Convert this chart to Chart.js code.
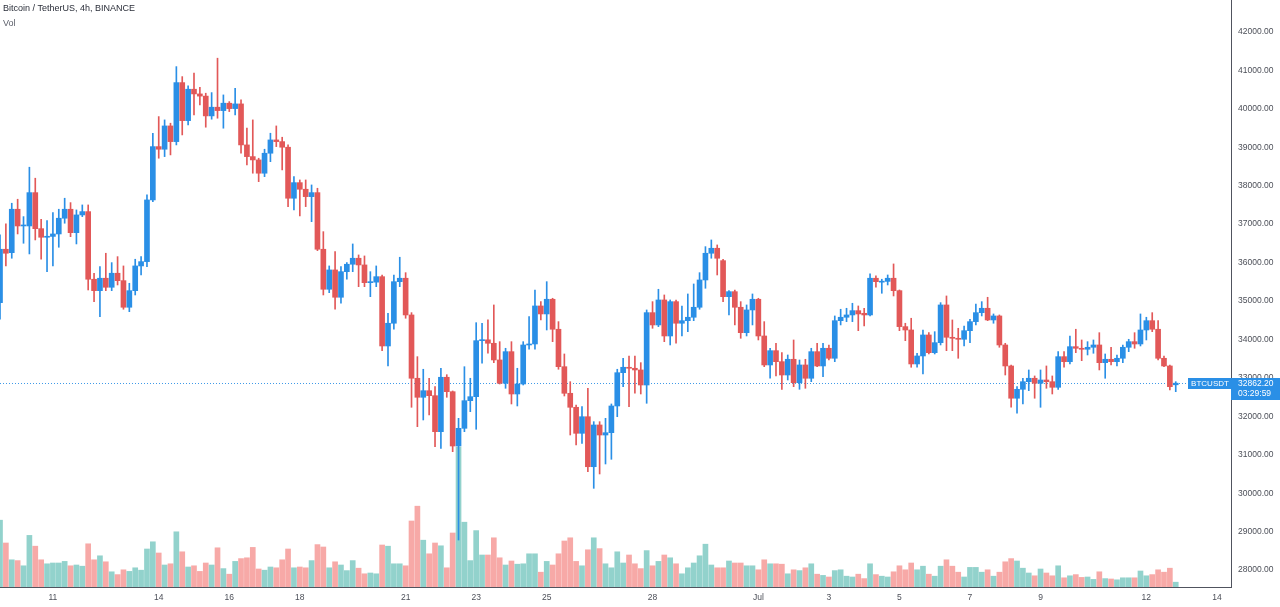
<!DOCTYPE html>
<html>
<head>
<meta charset="utf-8">
<script src="https://cdn.jsdelivr.net/npm/chart.js@4.4.0/dist/chart.umd.min.js"></script>
<style>
  html, body { margin: 0; padding: 0; background: #ffffff; }
  #wrap { width: 1280px; height: 607px; }
</style>
</head>
<body>
<div id="wrap"><canvas id="myChart" width="1280" height="607"></canvas></div>
<script>
// BTCUSDT 4h candles, index 0 = 9 Jun 12:00
const opens = [34957,36346,36257,37387,36952,36952,37819,36882,36658,36680,
  36744,37153,37387,36778,37239,37325,35566,35269,35592,35357,
  35722,35529,34837,35269,35912,36024,37629,39016,38948,39554,
  39146,40681,39692,40509,40387,40330,39815,40041,39953,40145,
  40005,40127,39060,38756,38670,38324,38844,39190,39146,39000,
  37673,38079,37907,37715,37819,36346,35305,35808,35097,35763,
  35956,36112,35938,35477,35490,35633,33830,34421,35503,35592,
  34637,32990,32495,32667,32537,31600,33016,32641,31228,31688,
  32407,32511,33968,33990,33900,33466,32860,33682,32581,32841,
  33856,33882,34871,34663,35045,34265,33291,32599,32235,31558,
  31990,30689,31775,31514,31574,32269,33135,33276,33250,33206,
  32815,34697,34377,35027,34090,34983,34421,34488,34577,34837,
  35547,36242,36372,36050,35113,35243,34837,34176,34767,35045,
  34090,33336,33708,33422,33075,33484,32875,33336,32990,33682,
  33310,33770,33510,34488,34577,34637,34749,34680,34637,35592,
  35490,35510,35592,35269,34333,34246,33362,33570,34116,33656,
  33916,34897,34056,34030,34004,34228,34463,34697,34811,34507,
  34611,33856,33310,32470,32703,32901,32990,32860,32945,32901,
  32755,33552,33422,33812,33770,33744,33796,33856,33396,33484,
  33422,33510,33796,33942,33882,34246,34488,34265,33510,33310,
  32820];
const highs = [36718,37005,37543,37647,37195,38480,38194,37127,37090,37299,
  37387,37673,37559,37369,37499,37499,35722,35893,36242,35998,
  36154,35912,35461,36086,36154,37759,39364,39797,39711,39625,
  41097,40837,40595,40926,40561,40405,40421,41316,40361,40187,
  40535,40231,39495,39711,38714,38948,39364,39554,39260,39060,
  38235,38149,38149,38019,37933,36804,35912,36284,35893,35998,
  36484,36198,36172,35763,35912,35677,34681,35677,36138,35737,
  34697,33552,33224,32990,32771,33250,33083,32660,31948,33291,
  32990,34436,34421,34507,34897,33942,33770,33942,33250,33942,
  34593,35287,34983,35503,35071,34463,33622,32901,32295,32251,
  32729,31861,31861,31948,32321,33224,33510,33570,33570,33396,
  34767,34983,35305,35157,35027,35027,34871,35183,35443,35737,
  36414,36588,36458,36086,35269,35287,34983,34897,35183,35071,
  34463,33770,33900,33656,33596,33986,33466,33484,33770,33900,
  33900,33856,34611,34785,34811,34941,34871,34811,35704,35652,
  35566,35677,35964,35287,34421,34551,33640,34246,34176,34202,
  34957,35131,34507,34290,34350,34525,34923,34983,35097,34663,
  34637,33900,33336,32771,32990,33206,33050,33206,33310,33050,
  33682,33682,34090,34265,33986,33942,33986,34176,33622,33796,
  33596,33856,34004,34176,34663,34577,34697,34488,33570,33336,
  32901];
const lows = [34525,35912,36112,36744,36502,36224,36588,36086,35763,35912,
  36398,37023,36674,36484,37195,35287,34983,34592,35269,35269,
  35417,34785,34723,35157,35677,35893,37585,38714,38756,38800,
  39060,39320,39581,39841,40101,39521,39729,39755,39495,39927,
  39841,38844,38540,38324,38105,38235,38625,39016,38410,37455,
  37369,37213,37455,37064,36310,35157,35217,34785,34941,35566,
  35763,35373,35373,35113,35373,33708,33310,34265,35373,34551,
  32235,31730,31905,32034,31210,31168,32495,31080,28782,31600,
  32121,31663,33380,33640,33396,32841,32729,32321,32269,32815,
  33744,33744,34507,34246,33942,33224,32529,31514,31254,31298,
  30559,30127,30500,30760,30882,31990,32771,32251,32599,32581,
  32339,34290,34333,33942,33856,33900,34090,34202,34488,34785,
  35331,36112,35677,34983,34637,34377,34030,34090,34377,33986,
  33291,32990,33050,32703,32945,32771,32703,32729,32901,33291,
  33032,33466,33422,34377,34463,34463,34228,34350,34611,35357,
  35201,35417,35131,34228,33968,33276,33276,33102,33622,33622,
  33856,33708,33708,33510,33830,33916,34377,34611,34488,34421,
  33796,33075,32235,32079,32321,32667,32470,32235,32729,32581,
  32703,33276,33362,33656,33447,33596,33640,33206,32990,33336,
  33310,33396,33682,33770,33830,33986,34202,33466,33291,32685,
  32641];
const closes = [36346,36242,37387,36952,36960,37819,36882,36658,36680,36744,
  37153,37387,36778,37239,37325,35566,35269,35592,35357,35722,
  35529,34837,35269,35912,36024,37629,39016,38948,39554,39146,
  40681,39692,40509,40387,40330,39815,40041,39953,40145,40005,
  40127,39060,38756,38670,38324,38844,39190,39146,39000,37673,
  38079,37907,37715,37819,36346,35305,35808,35097,35763,35956,
  36112,35938,35477,35490,35633,33830,34421,35503,35592,34637,
  32990,32495,32667,32537,31600,33016,32641,31228,31688,32407,
  32511,33968,33990,33900,33466,32860,33682,32581,32841,33856,
  33882,34871,34663,35045,34265,33291,32599,32235,31558,31990,
  30689,31775,31514,31574,32269,33135,33276,33250,33206,32815,
  34697,34377,35027,34090,34983,34421,34488,34577,34837,35547,
  36242,36372,36112,35113,35243,34837,34176,34767,35045,34090,
  33336,33708,33422,33075,33484,32875,33336,32990,33682,33310,
  33770,33510,34488,34577,34637,34749,34663,34637,35592,35503,
  35510,35592,35269,34333,34246,33362,33570,34116,33656,33916,
  34897,34056,34030,34004,34228,34463,34697,34811,34507,34611,
  33856,33310,32470,32703,32901,32990,32860,32945,32901,32755,
  33552,33422,33812,33770,33744,33796,33856,33396,33484,33422,
  33510,33796,33942,33882,34246,34488,34265,33510,33310,32771,
  32862.2];
const volumes = [16700,11000,6800,6600,5300,12900,10200,6800,5800,6000,
  6000,6400,5300,5500,5200,10800,6800,7800,6300,3800,
  3100,4300,3900,4800,4200,9500,11300,8500,5500,5800,
  13800,8800,5000,5300,3900,6000,5500,9800,4600,3200,
  6400,7100,7300,9900,4500,4200,5000,4800,6800,9500,
  4800,5000,4800,6600,10600,10000,4800,6300,5500,4100,
  6600,4700,3300,3500,3300,10500,10200,5800,5800,5300,
  16500,20200,11700,8300,11000,10300,4800,13500,35000,16200,
  6600,14100,8000,8000,12300,7300,5500,6500,5700,5800,
  8300,8300,3700,6400,5500,8300,11500,12300,6400,5300,
  9300,12300,9600,5800,4800,8800,6000,8000,5800,4600,
  9100,5300,6400,8000,7300,5800,3300,4800,6000,7800,
  10700,5500,4800,4800,6500,6000,6000,5300,5300,4300,
  6800,5800,5800,5700,3300,4300,4100,4800,5800,3200,
  2900,2500,4100,4300,2700,2500,3200,2100,5800,3100,
  2700,2500,3800,5300,4300,6000,4300,5200,3200,2700,
  5200,6800,5200,3700,2500,4900,4900,3700,4300,2700,
  3700,6300,7100,6500,4700,3500,2800,4500,3500,2800,
  5300,2300,2800,3100,2400,2500,1900,3800,2100,2000,
  1800,2300,2300,2300,4000,2800,3100,4300,3700,4700,
  1200];

const tickIndex = [9, 27, 39, 51, 69, 81, 93, 111, 129, 141, 153, 165, 177, 195, 207];
const tickLabels = ['11', '14', '16', '18', '21', '23', '25', '28', 'Jul', '3', '5', '7', '9', '12', '14'];
const priceTicks = [28000, 29000, 30000, 31000, 32000, 33000, 34000, 35000,
  36000, 37000, 38000, 39000, 40000, 41000, 42000];

const titleText = 'Bitcoin / TetherUS, 4h, BINANCE';
const volLabel = 'Vol';
const symbol = 'BTCUSDT';
const lastPrice = 32862.20;
const countdown = '03:29:59';

const upColor = '#2a8fe6';
const downColor = '#e25858';
const upVol = 'rgba(38,166,154,0.5)';
const downVol = 'rgba(239,83,80,0.5)';
const axisFont = { family: 'Liberation Sans', size: 8.5 };

const isUp = opens.map((o, i) => closes[i] >= o);

const wickData = highs.map((h, i) => ({ x: i, y: [lows[i], h] }));
const bodyData = opens.map((o, i) => ({ x: i, y: [Math.min(o, closes[i]), Math.max(o, closes[i])] }));
const volData = volumes.map((v, i) => ({ x: i, y: v }));

// no extra room around the plot, the axes sit flush on the edges
function noPadding(s) {
    s.paddingTop = 0;
    s.paddingBottom = 0;
    s.paddingLeft = 0;
    s.paddingRight = 0;
}

const overlay = {
    id: 'overlay',
    beforeDatasetsDraw(chart) {
        const { ctx, chartArea, scales } = chart;
        const y = Math.round(scales.y.getPixelForValue(lastPrice)) + 0.5;
        ctx.save();
        ctx.strokeStyle = 'rgba(42,143,230,0.9)';
        ctx.lineWidth = 1;
        ctx.setLineDash([1, 2]);
        ctx.beginPath();
        ctx.moveTo(chartArea.left, y);
        ctx.lineTo(chartArea.right, y);
        ctx.stroke();
        ctx.restore();
    },
    afterDraw(chart) {
        const { ctx, chartArea, scales } = chart;
        const y = Math.round(scales.y.getPixelForValue(lastPrice));
        ctx.save();

        // header texts
        ctx.textBaseline = 'middle';
        ctx.textAlign = 'left';
        ctx.fillStyle = '#2a2e39';
        ctx.font = '9px "Liberation Sans"';
        ctx.fillText(titleText, 3, 9);
        ctx.fillStyle = '#5d606b';
        ctx.fillText(volLabel, 3, 24);

        // symbol tag
        ctx.fillStyle = upColor;
        ctx.fillRect(chartArea.right - 43, y - 5, 43, 11);
        ctx.fillStyle = '#ffffff';
        ctx.font = '8px "Liberation Sans"';
        ctx.textAlign = 'center';
        ctx.fillText(symbol, chartArea.right - 21, y + 1);

        // price tag on axis
        ctx.fillStyle = upColor;
        ctx.fillRect(chartArea.right, y - 5, chart.width - chartArea.right, 22);
        ctx.fillStyle = '#ffffff';
        ctx.font = '8.5px "Liberation Sans"';
        ctx.textAlign = 'left';
        ctx.fillText(lastPrice.toFixed(2), chartArea.right + 7, y + 1);
        ctx.fillText(countdown, chartArea.right + 7, y + 11);
        ctx.restore();
    }
};

new Chart(document.getElementById('myChart'), {
    type: 'bar',
    data: {
        datasets: [
            {
                data: bodyData,
                backgroundColor: isUp.map(u => u ? upColor : downColor),
                barThickness: 5,
                minBarLength: 1,
                grouped: false,
                yAxisID: 'y',
                order: 1
            },
            {
                data: wickData,
                backgroundColor: isUp.map(u => u ? upColor : downColor),
                barThickness: 1,
                grouped: false,
                yAxisID: 'y',
                order: 2
            },
            {
                data: volData,
                backgroundColor: isUp.map(u => u ? upVol : downVol),
                barThickness: 5,
                grouped: false,
                yAxisID: 'yv',
                order: 3
            }
        ]
    },
    options: {
        responsive: false,
        animation: false,
        layout: { padding: 0 },
        plugins: {
            legend: { display: false },
            tooltip: { enabled: false },
            title: { display: false }
        },
        scales: {
            x: {
                type: 'linear',
                offset: false,
                min: 0,
                max: 209.4,
                grid: { display: false, drawTicks: false },
                border: { display: true, color: '#50535e' },
                afterBuildTicks: s => { s.ticks = tickIndex.map(v => ({ value: v })); },
                afterFit: s => { s.height = 20; noPadding(s); },
                ticks: {
                    autoSkip: false,
                    maxRotation: 0,
                    padding: 6,
                    color: '#4c4f58',
                    font: axisFont,
                    callback: v => tickLabels[tickIndex.indexOf(v)]
                }
            },
            y: {
                type: 'linear',
                position: 'right',
                min: 27560,
                max: 42830,
                grid: { display: false, drawTicks: false },
                border: { display: true, color: '#50535e' },
                afterBuildTicks: s => { s.ticks = priceTicks.map(v => ({ value: v })); },
                afterFit: s => { s.width = 49; noPadding(s); },
                ticks: {
                    padding: 7,
                    color: '#4c4f58',
                    font: axisFont,
                    callback: v => v.toFixed(2)
                }
            },
            yv: {
                type: 'linear',
                display: false,
                min: 0,
                max: 146750
            }
        }
    },
    plugins: [overlay]
});
</script>
</body>
</html>
